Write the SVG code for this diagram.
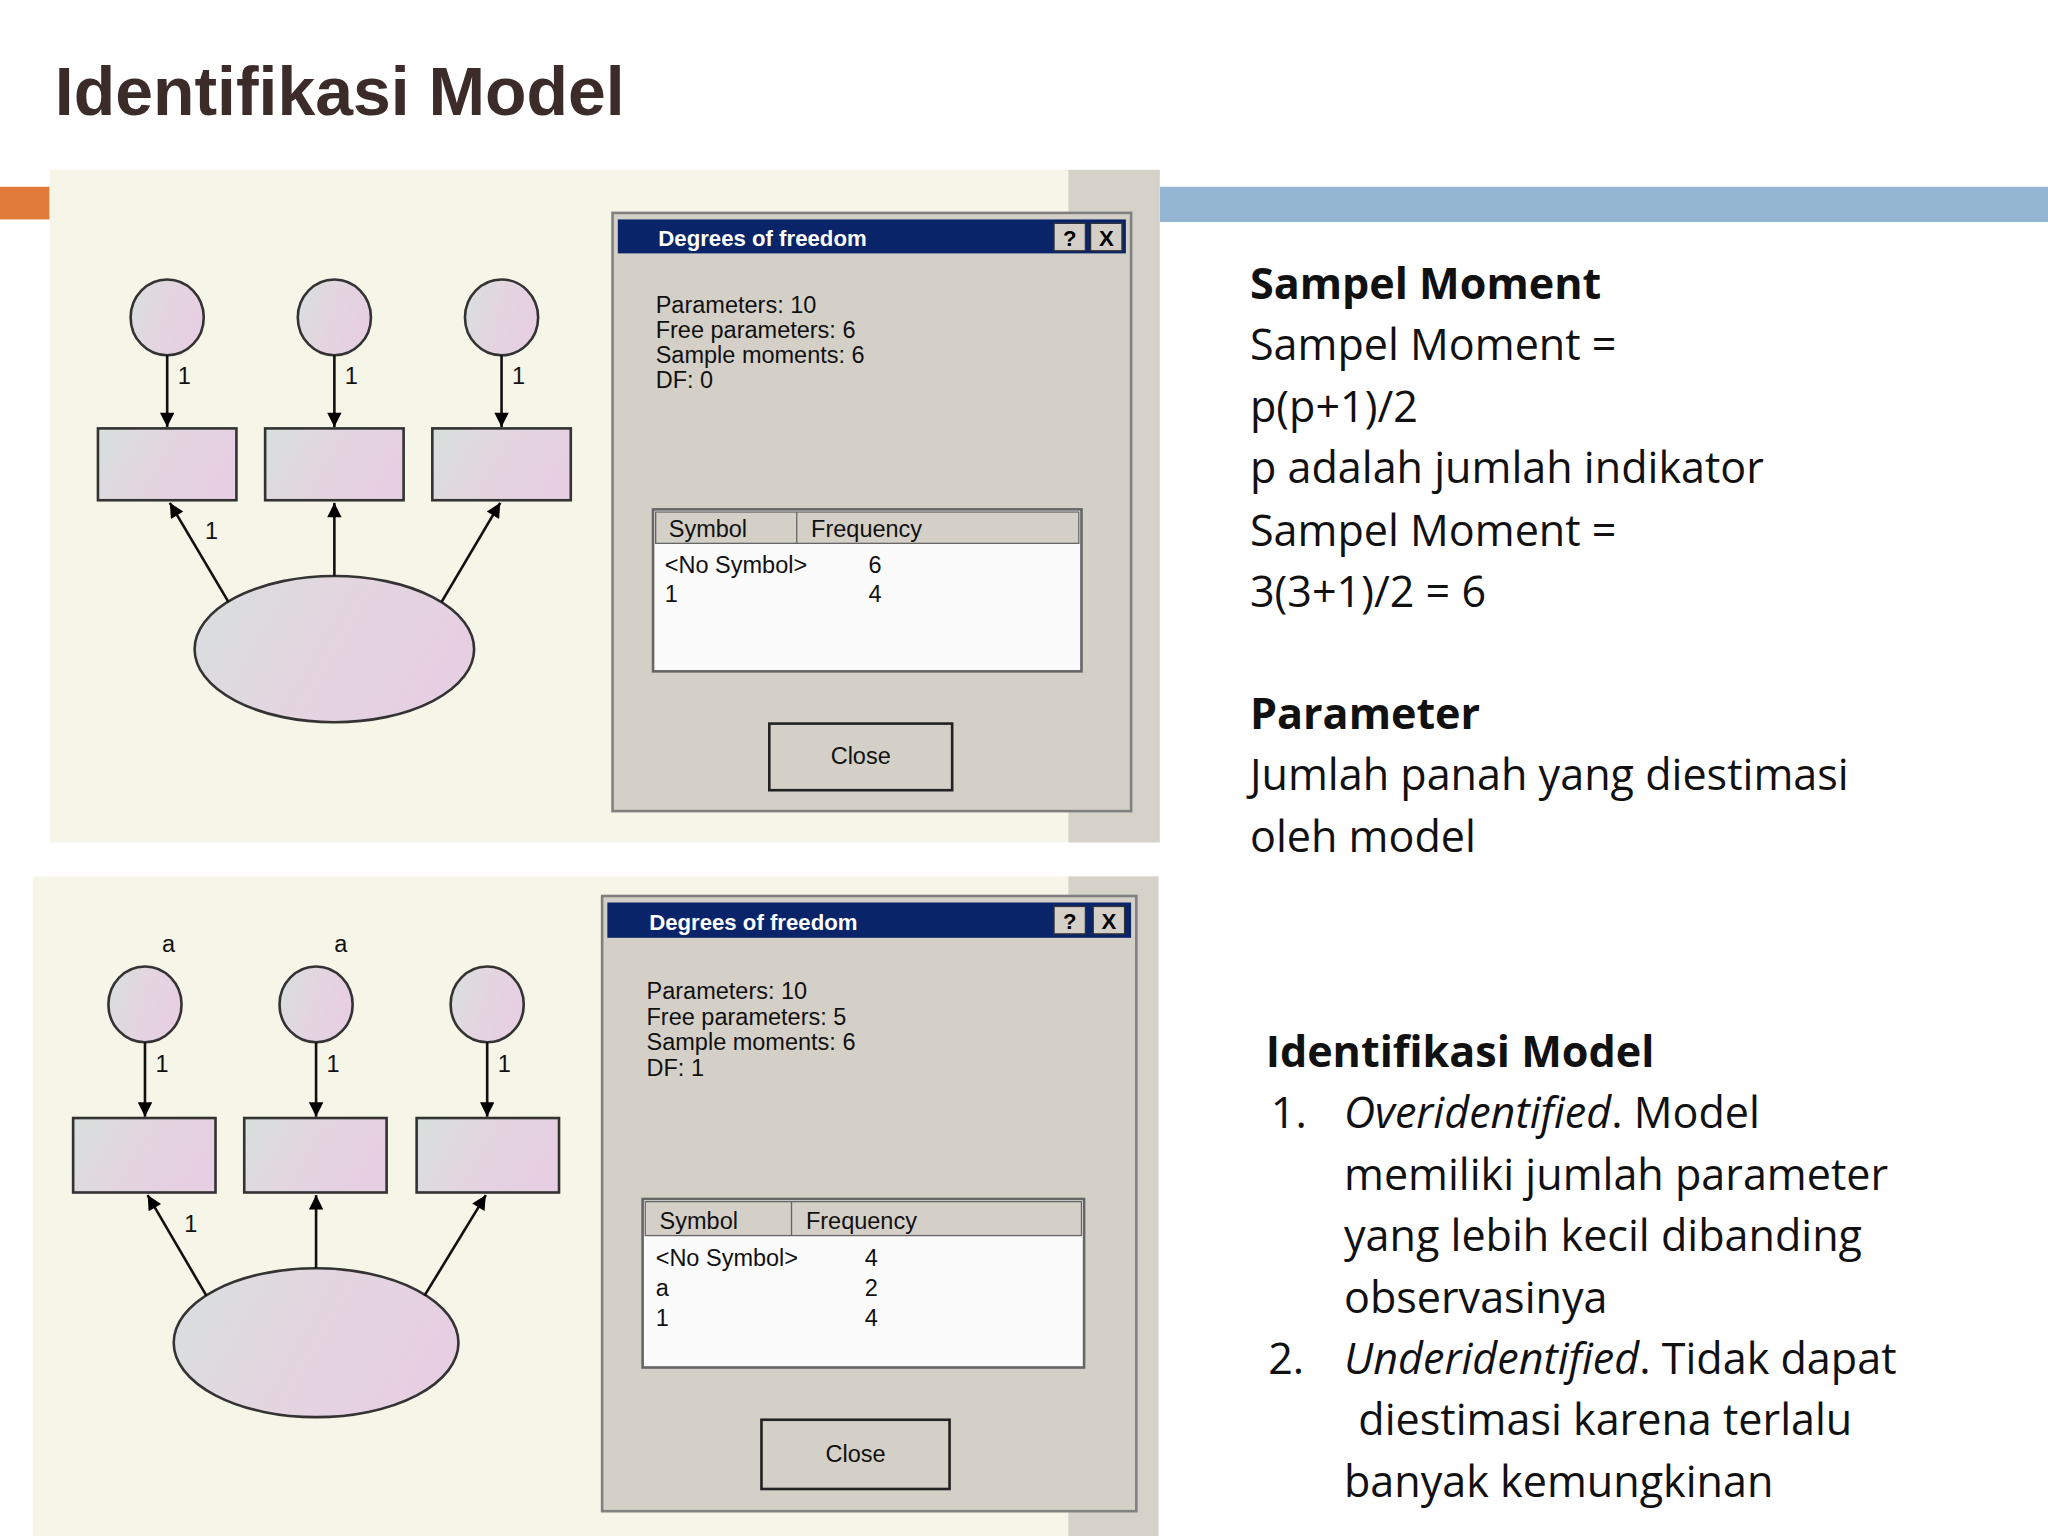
<svg xmlns="http://www.w3.org/2000/svg" width="2048" height="1536" viewBox="0 0 2048 1536">
<defs>
<linearGradient id="ng" x1="0" y1="0" x2="1" y2="0.3">
<stop offset="0" stop-color="#d6e0dc"/><stop offset="0.5" stop-color="#e3d6e0"/><stop offset="1" stop-color="#e6cfe2"/>
</linearGradient>
<marker id="ah" viewBox="0 0 10 10" refX="10" refY="5" markerWidth="20" markerHeight="11" markerUnits="userSpaceOnUse" orient="auto"><path d="M0,0 L10,5 L0,10 z" fill="#000"/></marker>
<style>
.n{fill:url(#ng);stroke:#333;stroke-width:2}
.c{stroke:#111;stroke-width:2;fill:none;marker-end:url(#ah)}
.w{font-family:"Liberation Sans",Arial,sans-serif;font-size:18px;fill:#111}
.r{font-family:"Open Sans","DejaVu Sans",sans-serif;font-size:33px;fill:#111}
.b{font-weight:bold}
.dlg{fill:#d4d0c8;stroke:#808080;stroke-width:2}
.bar{fill:#0a246a}
.tt{font-family:"Liberation Sans",Arial,sans-serif;font-size:17px;font-weight:bold;fill:#fff}
.btn{fill:#d4d0c8;stroke:#222;stroke-width:2}
</style>
</defs>
<rect width="2048" height="1536" fill="#fff"/>
<g transform="scale(1.30612)">
<text x="42" y="88" font-family="Liberation Sans,Arial,sans-serif" font-size="52" font-weight="bold" fill="#3b2c2a">Identifikasi Model</text>
<rect x="0" y="143" width="38" height="25" fill="#e07b39"/>
<rect x="888" y="143" width="680" height="27" fill="#94b6d2"/>

<g id="panel1">
<rect x="38" y="130" width="850" height="515" fill="#f5f5e8"/>
<rect x="818" y="130" width="70" height="515" fill="#d6d2ca"/>
<g id="dlg1">
<rect class="dlg" x="469" y="163" width="397" height="458"/>
<rect class="bar" x="473" y="168" width="389" height="26"/>
<text class="tt" x="504" y="188">Degrees of freedom</text>
<rect x="807" y="171" width="24" height="21" fill="#d4d0c8" stroke="#333"/><text x="819" y="188" text-anchor="middle" font-family="Liberation Sans,Arial,sans-serif" font-size="17" font-weight="bold">?</text>
<rect x="835" y="171" width="24" height="21" fill="#d4d0c8" stroke="#333"/><text x="847" y="188" text-anchor="middle" font-family="Liberation Sans,Arial,sans-serif" font-size="17" font-weight="bold">X</text>
<text class="w" x="502" y="240">Parameters:  10</text>
<text class="w" x="502" y="259">Free parameters:  6</text>
<text class="w" x="502" y="278">Sample moments:  6</text>
<text class="w" x="502" y="297">DF:  0</text>
<rect x="500" y="390" width="328" height="124" fill="#fbfbfb" stroke="#666" stroke-width="2"/>
<rect x="502" y="392" width="324" height="24" fill="#d4d0c8" stroke="#666"/>
<line x1="610" y1="392" x2="610" y2="416" stroke="#666"/>
<text class="w" x="512" y="411">Symbol</text><text class="w" x="621" y="411">Frequency</text>
<text class="w" x="509" y="439">&lt;No Symbol&gt;</text><text class="w" x="665" y="439">6</text>
<text class="w" x="509" y="461">1</text><text class="w" x="665" y="461">4</text>
<rect class="btn" x="589" y="554" width="140" height="51"/>
<text class="w" x="659" y="585" text-anchor="middle">Close</text>
</g>
<g id="e1"><ellipse class="n" cx="128" cy="243" rx="28" ry="29"/></g>
<g id="e2"><ellipse class="n" cx="256" cy="243" rx="28" ry="29"/></g>
<g id="e3"><ellipse class="n" cx="384" cy="243" rx="28" ry="29"/></g>
<g id="x1"><rect class="n" x="75" y="328" width="106" height="55"/></g>
<g id="x2"><rect class="n" x="203" y="328" width="106" height="55"/></g>
<g id="x3"><rect class="n" x="331" y="328" width="106" height="55"/></g>
<g id="f1"><ellipse class="n" cx="256" cy="497" rx="107" ry="56"/></g>
<g id="conn1">
<line class="c" x1="128" y1="272" x2="128" y2="327"/>
<line class="c" x1="256" y1="272" x2="256" y2="327"/>
<line class="c" x1="384" y1="272" x2="384" y2="327"/>
<line class="c" x1="175" y1="461" x2="130" y2="385"/>
<line class="c" x1="256" y1="441" x2="256" y2="385"/>
<line class="c" x1="338" y1="461" x2="383" y2="385"/>
<text class="w" x="136" y="294">1</text><text class="w" x="264" y="294">1</text><text class="w" x="392" y="294">1</text>
<text class="w" x="157" y="413">1</text>
</g>
</g>

<g id="panel2">
<rect x="25" y="671" width="862" height="505" fill="#f5f5e8"/>
<rect x="818" y="671" width="69" height="505" fill="#d6d2ca"/>
<g id="dlg2">
<rect class="dlg" x="461" y="686" width="409" height="471"/>
<rect class="bar" x="465" y="691" width="401" height="27"/>
<text class="tt" x="497" y="712">Degrees of freedom</text>
<rect x="807" y="694" width="24" height="21" fill="#d4d0c8" stroke="#333"/><text x="819" y="711" text-anchor="middle" font-family="Liberation Sans,Arial,sans-serif" font-size="17" font-weight="bold">?</text>
<rect x="837" y="694" width="24" height="21" fill="#d4d0c8" stroke="#333"/><text x="849" y="711" text-anchor="middle" font-family="Liberation Sans,Arial,sans-serif" font-size="17" font-weight="bold">X</text>
<text class="w" x="495" y="765">Parameters:  10</text>
<text class="w" x="495" y="785">Free parameters:  5</text>
<text class="w" x="495" y="804">Sample moments:  6</text>
<text class="w" x="495" y="824">DF:  1</text>
<rect x="492" y="918" width="338" height="129" fill="#fbfbfb" stroke="#666" stroke-width="2"/>
<rect x="494" y="920" width="334" height="26" fill="#d4d0c8" stroke="#666"/>
<line x1="606" y1="920" x2="606" y2="946" stroke="#666"/>
<text class="w" x="505" y="941">Symbol</text><text class="w" x="617" y="941">Frequency</text>
<text class="w" x="502" y="969">&lt;No Symbol&gt;</text><text class="w" x="662" y="969">4</text>
<text class="w" x="502" y="992">a</text><text class="w" x="662" y="992">2</text>
<text class="w" x="502" y="1015">1</text><text class="w" x="662" y="1015">4</text>
<rect class="btn" x="583" y="1087" width="144" height="53"/>
<text class="w" x="655" y="1119" text-anchor="middle">Close</text>
</g>
<g id="e4"><ellipse class="n" cx="111" cy="769" rx="28" ry="29"/></g>
<g id="e5"><ellipse class="n" cx="242" cy="769" rx="28" ry="29"/></g>
<g id="e6"><ellipse class="n" cx="373" cy="769" rx="28" ry="29"/></g>
<g id="x4"><rect class="n" x="56" y="856" width="109" height="57"/></g>
<g id="x5"><rect class="n" x="187" y="856" width="109" height="57"/></g>
<g id="x6"><rect class="n" x="319" y="856" width="109" height="57"/></g>
<g id="f2"><ellipse class="n" cx="242" cy="1028" rx="109" ry="57"/></g>
<g id="conn2">
<line class="c" x1="111" y1="798" x2="111" y2="855"/>
<line class="c" x1="242" y1="798" x2="242" y2="855"/>
<line class="c" x1="373" y1="798" x2="373" y2="855"/>
<line class="c" x1="158" y1="992" x2="113" y2="915"/>
<line class="c" x1="242" y1="971" x2="242" y2="915"/>
<line class="c" x1="325" y1="992" x2="372" y2="915"/>
<text class="w" x="124" y="729">a</text><text class="w" x="256" y="729">a</text>
<text class="w" x="119" y="821">1</text><text class="w" x="250" y="821">1</text><text class="w" x="381" y="821">1</text>
<text class="w" x="141" y="943">1</text>
</g>
</g>

<g id="text">
<text class="r b" x="957" y="229">Sampel Moment</text>
<text class="r" x="957" y="276">Sampel Moment =</text>
<text class="r" x="957" y="323">p(p+1)/2</text>
<text class="r" x="957" y="370">p adalah jumlah indikator</text>
<text class="r" x="957" y="418">Sampel Moment =</text>
<text class="r" x="957" y="465">3(3+1)/2 = 6</text>
<text class="r b" x="957" y="558">Parameter</text>
<text class="r" x="957" y="605">Jumlah panah yang diestimasi</text>
<text class="r" x="957" y="652">oleh model</text>
<text class="r b" x="969" y="817">Identifikasi Model</text>
<text class="r" x="973" y="864">1.</text>
<text class="r" x="1029" y="864"><tspan font-style="italic">Overidentified</tspan>. Model</text>
<text class="r" x="1029" y="911">memiliki jumlah parameter</text>
<text class="r" x="1029" y="958">yang lebih kecil dibanding</text>
<text class="r" x="1029" y="1005">observasinya</text>
<text class="r" x="971" y="1052">2.</text>
<text class="r" x="1029" y="1052"><tspan font-style="italic">Underidentified</tspan>. Tidak dapat</text>
<text class="r" x="1040" y="1099">diestimasi karena terlalu</text>
<text class="r" x="1029" y="1146">banyak kemungkinan</text>
</g>
</g>
</svg>
